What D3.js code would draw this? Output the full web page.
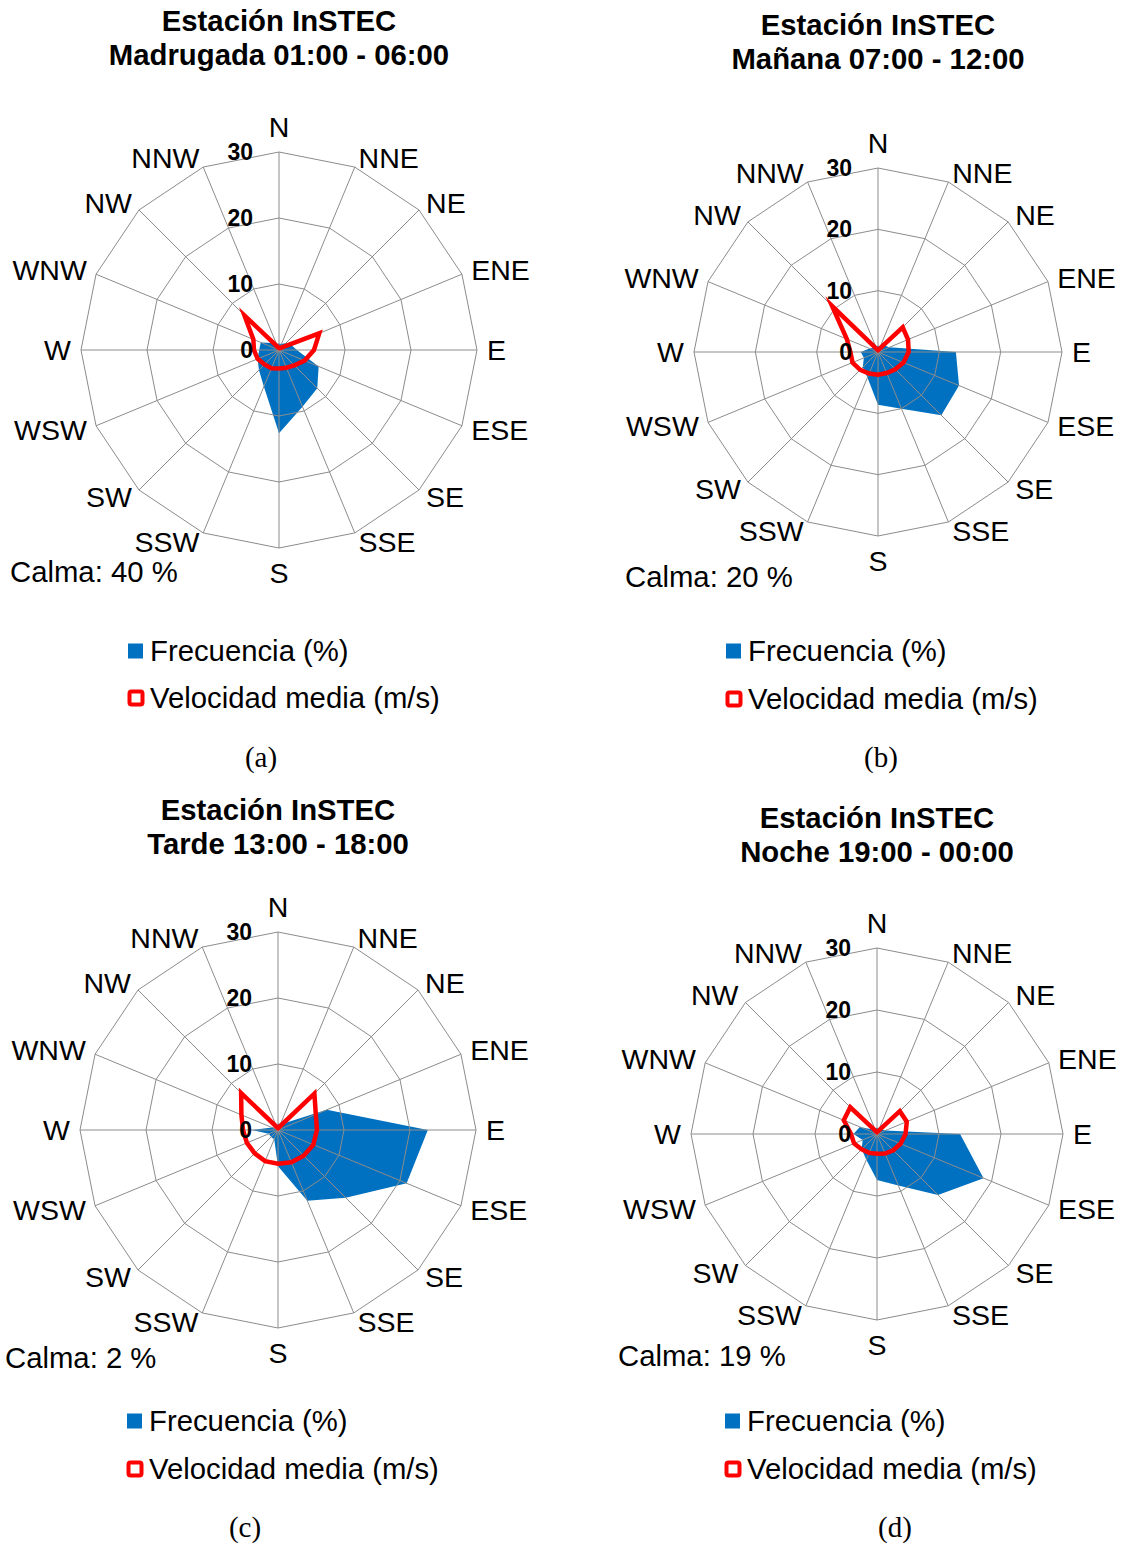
<!DOCTYPE html>
<html>
<head>
<meta charset="utf-8">
<script src="https://cdn.jsdelivr.net/npm/d3@7"></script>
<style>
  html, body { margin: 0; padding: 0; background: #fff; }
  svg { display: block; }
  text { font-family: "Liberation Sans", Arial, sans-serif; fill: #000; }
</style>
</head>
<body>
<svg id="chart" width="1121" height="1544"></svg>
<script>
// Wind roses for the InSTEC station, one per time-of-day period.
const directions = ["N","NNE","NE","ENE","E","ESE","SE","SSE","S","SSW","SW","WSW","W","WNW","NW","NNW"];
const ringTicks = [0, 10, 20, 30];
const stationName = "Estación InSTEC";
const periods = ["Madrugada 01:00 - 06:00", "Mañana 07:00 - 12:00", "Tarde 13:00 - 18:00", "Noche 19:00 - 00:00"];
const calmPercent = [40, 20, 2, 19];
const captions = ["(a)", "(b)", "(c)", "(d)"];
const seriesNames = ["Frecuencia (%)", "Velocidad media (m/s)"];

// Frequency (%) per direction, N clockwise
const freqMadrugada = [1, 1, 1.5, 2, 2.7, 6.5, 8.2, 9.3, 12.6, 6, 4.3, 3.5, 3, 3, 1.5, 1];
const freqManana    = [1, 1, 1.5, 2, 12.7, 14.3, 14.6, 10, 8.6, 4.5, 3.5, 2.5, 2.8, 1.5, 1, 1];
const freqTarde     = [1, 1, 1.5, 8, 22.7, 21.1, 14.5, 11.6, 5.5, 1.5, 1.5, 1.5, 4, 1, 0.5, 0.5];
const freqNoche     = [1, 1, 1, 1.5, 13.4, 18.6, 13.9, 9, 7.4, 4.5, 3.5, 2.5, 3.8, 3, 1, 1];

// Mean wind speed (m/s) per direction, N clockwise
const velMadrugada = [0.3, 0.3, 0.5, 6.6, 5.3, 4.2, 3.3, 2.9, 2.8, 3, 3.1, 3.5, 3.8, 4.2, 7.4, 0.5];
const velManana    = [0.3, 0.5, 5.7, 5.3, 5, 4.5, 4, 3.7, 3.7, 3.8, 4.1, 4.5, 4.5, 5.5, 10.6, 0.5];
const velTarde     = [0.3, 0.5, 7.8, 6.2, 5.9, 5.8, 5.5, 5.3, 5.1, 5.1, 5, 5.1, 5.3, 6, 7.9, 0.5];
const velNoche     = [0.3, 0.5, 5.2, 5.2, 4.6, 4.1, 3.7, 3.4, 3.2, 3.3, 3.5, 4, 4.2, 5.8, 6.1, 0.5];

const frequencies = [freqMadrugada, freqManana, freqTarde, freqNoche];
const velocities = [velMadrugada, velManana, velTarde, velNoche];

// Placement of each panel on the page
const layout = [
  { cx: 279, cy: 350,  R: 198, tx: 279, ty: [21, 55],    lx: 128, ly: [651, 698],   capX: 261, capY: 757,  calX: 10,  calY: 572 },
  { cx: 878, cy: 352,  R: 184, tx: 878, ty: [25, 59],    lx: 726, ly: [651, 699],   capX: 881, capY: 757,  calX: 625, calY: 577 },
  { cx: 278, cy: 1130, R: 198, tx: 278, ty: [810, 844],  lx: 127, ly: [1421, 1469], capX: 245, capY: 1527, calX: 5,   calY: 1358 },
  { cx: 877, cy: 1134, R: 186, tx: 877, ty: [818, 852],  lx: 725, ly: [1421, 1469], capX: 895, capY: 1527, calX: 618, calY: 1356 }
];

const BLUE = "#0070C0", RED = "#FF0000", GRID = "#8c8c8c";
const svg = d3.select("#chart");
const n = directions.length;
const angle = i => i * 2 * Math.PI / n;

layout.forEach((L, p) => {
  const g = svg.append("g");
  const r = d3.scaleLinear().domain([0, 30]).range([0, L.R]);
  const plot = g.append("g").attr("transform", `translate(${L.cx},${L.cy})`);

  // frequency area
  const radial = d3.lineRadial().angle((d, i) => angle(i)).radius(d => r(d)).curve(d3.curveLinearClosed);
  plot.append("path").datum(frequencies[p]).attr("d", radial).attr("fill", BLUE).attr("stroke", "none");

  // polygonal rings and spokes
  const ringLine = d3.lineRadial().angle((d, i) => angle(i)).radius(d => d).curve(d3.curveLinearClosed);
  ringTicks.filter(t => t > 0).forEach(t => {
    plot.append("path").datum(directions.map(() => r(t))).attr("d", ringLine)
      .attr("fill", "none").attr("stroke", GRID).attr("stroke-width", 1);
  });
  directions.forEach((d, i) => {
    const a = angle(i);
    plot.append("line").attr("x1", 0).attr("y1", 0)
      .attr("x2", r(30) * Math.sin(a)).attr("y2", -r(30) * Math.cos(a))
      .attr("stroke", GRID).attr("stroke-width", 1);
  });

  // mean speed outline
  plot.append("path").datum(velocities[p]).attr("d", radial)
    .attr("fill", "none").attr("stroke", RED).attr("stroke-width", 4.5)
    .attr("stroke-linejoin", "miter").attr("stroke-miterlimit", 10);

  // radial tick labels
  ringTicks.forEach(t => {
    plot.append("text").attr("x", -26).attr("y", -r(t)).attr("dy", "0.35em")
      .attr("text-anchor", "end").attr("font-weight", "bold").attr("font-size", 23)
      .text(t);
  });

  // direction labels
  directions.forEach((d, i) => {
    const a = angle(i), s = Math.sin(a), c = Math.cos(a);
    const lr = L.R + 10;
    let x = lr * s, y = -lr * c, anchor = "middle";
    if (s > 0.1) anchor = "start"; else if (s < -0.1) anchor = "end";
    if (anchor === "middle") y += (c > 0 ? -15 : 15);
    plot.append("text").attr("x", x).attr("y", y).attr("dy", "0.35em")
      .attr("text-anchor", anchor).attr("font-size", 28.5).text(d);
  });

  // title
  [stationName, periods[p]].forEach((t, k) => {
    g.append("text").attr("x", L.tx).attr("y", L.ty[k]).attr("dy", "0.35em")
      .attr("text-anchor", "middle").attr("font-weight", "bold").attr("font-size", 29.3).text(t);
  });

  // calm percentage
  g.append("text").attr("x", L.calX).attr("y", L.calY).attr("dy", "0.35em")
    .attr("font-size", 29.3).text(`Calma: ${calmPercent[p]} %`);

  // legend
  g.append("rect").attr("x", L.lx).attr("y", L.ly[0] - 7.5).attr("width", 15).attr("height", 15).attr("fill", BLUE);
  g.append("rect").attr("x", L.lx + 1.5).attr("y", L.ly[1] - 6.5).attr("width", 13).attr("height", 13)
    .attr("rx", 2).attr("fill", "#fff").attr("stroke", RED).attr("stroke-width", 4);
  seriesNames.forEach((s, k) => {
    g.append("text").attr("x", L.lx + 22).attr("y", L.ly[k]).attr("dy", "0.35em")
      .attr("font-size", 29.3).text(s);
  });

  // panel caption
  g.append("text").attr("x", L.capX).attr("y", L.capY).attr("dy", "0.35em")
    .attr("text-anchor", "middle").attr("font-size", 29)
    .style("font-family", "'Liberation Serif', 'Times New Roman', serif").text(captions[p]);
});
</script>
</body>
</html>
